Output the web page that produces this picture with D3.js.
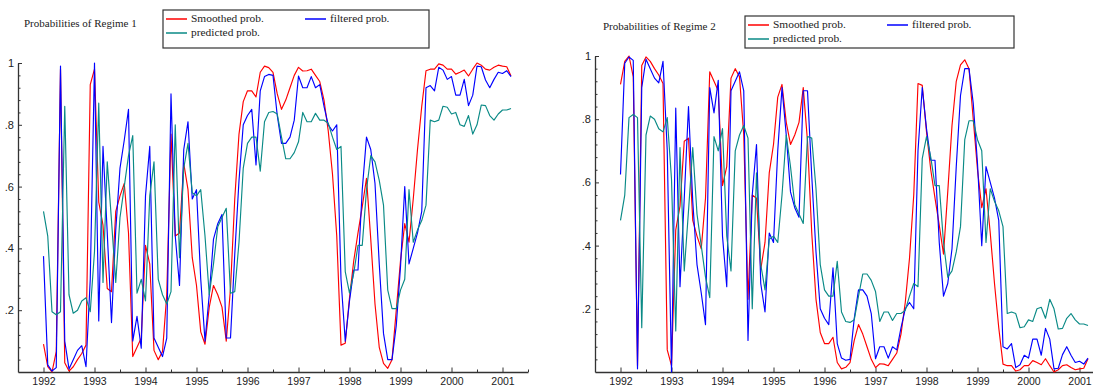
<!DOCTYPE html>
<html>
<head>
<meta charset="utf-8">
<script src="https://cdn.jsdelivr.net/npm/d3@7"></script>
<style>
  body { margin: 0; background: #fff; }
  svg { display: block; font-family: "Liberation Serif", "Times New Roman", serif; }
  .tick text { font-size: 11px; fill: #222; }
  .xaxis .tick text { font-size: 10.5px; }
  .title { font-size: 11px; fill: #222; }
  .legend text { font-size: 11.4px; fill: #222; }
</style>
</head>
<body>
<svg id="chart"></svg>
<script>
// monthly observations 1992:1 .. 2001:3
const startYear = 1992;
const nMonths = 111;

const yearTicks = [1992, 1993, 1994, 1995, 1996, 1997, 1998, 1999, 2000, 2001];
const halfYearTicks = [1991.5, 1992.5, 1993.5, 1994.5, 1995.5, 1996.5, 1997.5, 1998.5, 1999.5, 2000.5, 2001.5];
const yMajorTicks = [0.2, 0.4, 0.6, 0.8, 1];
const yMinorTicks = [0.04, 0.08, 0.12, 0.16, 0.24, 0.28, 0.32, 0.36, 0.44, 0.48, 0.52, 0.56,
                     0.64, 0.68, 0.72, 0.76, 0.84, 0.88, 0.92, 0.96];

const seriesNames = ["Smoothed prob.", "filtered prob.", "predicted prob."];
const seriesColors = ["#ff0000", "#0000ff", "#0a8a86"];

// Regime 1
const r1Smoothed = [0.09,0.017,0.0,0.066,0.98,0.03,0.003,0.017,0.04,0.06,
  0.087,0.93,0.98,0.55,0.475,0.27,0.26,0.52,0.57,0.61,
  0.45,0.05,0.08,0.11,0.41,0.35,0.07,0.04,0.066,0.25,
  0.77,0.44,0.45,0.675,0.59,0.37,0.28,0.13,0.09,0.21,
  0.28,0.25,0.21,0.10,0.27,0.56,0.77,0.875,0.91,0.91,
  0.89,0.97,0.99,0.985,0.97,0.90,0.85,0.88,0.92,0.96,
  0.986,0.974,0.975,0.98,0.96,0.94,0.88,0.78,0.64,0.44,
  0.087,0.093,0.24,0.36,0.45,0.535,0.627,0.43,0.22,0.08,
  0.028,0.012,0.04,0.2,0.36,0.48,0.42,0.56,0.72,0.86,
  0.975,0.98,0.98,0.997,0.993,0.98,0.98,0.964,0.97,0.977,
  0.958,0.98,1.0,0.993,0.98,0.977,0.986,0.993,0.99,0.988,
  0.958];
const r1Filtered = [0.375,0.023,0.003,0.014,0.99,0.10,0.01,0.04,0.07,0.085,
  0.017,0.3,1.0,0.165,0.73,0.45,0.16,0.46,0.66,0.75,
  0.85,0.10,0.18,0.077,0.57,0.73,0.11,0.08,0.05,0.11,
  0.90,0.44,0.28,0.72,0.81,0.56,0.59,0.3,0.1,0.25,
  0.43,0.48,0.51,0.11,0.11,0.38,0.62,0.8,0.83,0.85,
  0.67,0.91,0.956,0.963,0.96,0.83,0.74,0.74,0.76,0.815,
  0.958,0.92,0.92,0.956,0.92,0.93,0.86,0.80,0.78,0.80,
  0.3,0.10,0.23,0.33,0.33,0.59,0.76,0.72,0.61,0.35,
  0.125,0.04,0.04,0.15,0.34,0.6,0.35,0.40,0.45,0.52,
  0.92,0.927,0.91,0.986,0.977,0.947,0.956,0.896,0.896,0.947,
  0.862,0.896,0.99,0.988,0.945,0.92,0.947,0.97,0.966,0.975,
  0.956];
const r1Predicted = [0.52,0.44,0.195,0.185,0.195,0.86,0.25,0.19,0.20,0.23,
  0.24,0.195,0.39,0.87,0.29,0.68,0.49,0.29,0.50,0.6,
  0.70,0.765,0.255,0.30,0.23,0.57,0.68,0.3,0.25,0.22,
  0.26,0.80,0.37,0.66,0.74,0.58,0.57,0.59,0.44,0.25,
  0.35,0.47,0.50,0.53,0.255,0.26,0.42,0.66,0.74,0.76,
  0.76,0.65,0.81,0.84,0.843,0.835,0.76,0.69,0.69,0.71,
  0.745,0.84,0.81,0.81,0.837,0.815,0.815,0.805,0.76,0.72,
  0.73,0.325,0.255,0.32,0.41,0.41,0.59,0.70,0.68,0.62,
  0.54,0.265,0.205,0.205,0.265,0.3,0.59,0.42,0.46,0.49,
  0.54,0.815,0.81,0.815,0.86,0.857,0.835,0.84,0.80,0.795,
  0.83,0.77,0.80,0.864,0.862,0.83,0.815,0.835,0.848,0.848,
  0.853];

// Regime 2
const r2Smoothed = [0.91,0.983,1.0,0.934,0.02,0.97,0.997,0.983,0.96,0.94,
  0.913,0.07,0.02,0.45,0.525,0.73,0.74,0.48,0.43,0.39,
  0.55,0.95,0.92,0.89,0.59,0.65,0.93,0.96,0.934,0.75,
  0.23,0.56,0.55,0.325,0.41,0.63,0.72,0.87,0.91,0.79,
  0.72,0.75,0.79,0.90,0.73,0.44,0.23,0.125,0.09,0.09,
  0.11,0.03,0.01,0.015,0.03,0.10,0.15,0.12,0.08,0.04,
  0.014,0.026,0.025,0.02,0.04,0.06,0.12,0.22,0.36,0.56,
  0.913,0.907,0.76,0.64,0.55,0.465,0.373,0.57,0.78,0.92,
  0.972,0.988,0.96,0.8,0.64,0.52,0.58,0.44,0.28,0.14,
  0.025,0.02,0.02,0.003,0.007,0.02,0.02,0.036,0.03,0.023,
  0.042,0.02,0.0,0.007,0.02,0.023,0.014,0.007,0.01,0.012,
  0.042];
const r2Filtered = [0.625,0.977,0.997,0.986,0.01,0.90,0.99,0.96,0.93,0.915,
  0.983,0.7,0.0,0.835,0.27,0.55,0.84,0.54,0.34,0.25,
  0.15,0.90,0.82,0.923,0.43,0.27,0.89,0.92,0.95,0.89,
  0.10,0.56,0.72,0.28,0.19,0.44,0.41,0.7,0.9,0.75,
  0.57,0.52,0.49,0.89,0.89,0.62,0.38,0.2,0.17,0.15,
  0.33,0.09,0.044,0.037,0.04,0.17,0.26,0.26,0.24,0.185,
  0.042,0.08,0.08,0.044,0.08,0.07,0.14,0.20,0.22,0.20,
  0.7,0.9,0.77,0.67,0.67,0.41,0.24,0.28,0.39,0.65,
  0.875,0.96,0.96,0.85,0.66,0.4,0.65,0.60,0.55,0.48,
  0.08,0.073,0.09,0.014,0.023,0.053,0.044,0.104,0.104,0.053,
  0.138,0.104,0.01,0.012,0.055,0.08,0.053,0.03,0.034,0.025,
  0.044];
const r2Predicted = [0.48,0.56,0.805,0.815,0.805,0.14,0.75,0.81,0.80,0.77,
  0.76,0.805,0.61,0.13,0.71,0.32,0.51,0.71,0.50,0.4,
  0.30,0.235,0.745,0.70,0.77,0.43,0.32,0.7,0.75,0.78,
  0.74,0.20,0.63,0.34,0.26,0.42,0.43,0.41,0.56,0.75,
  0.65,0.53,0.50,0.47,0.745,0.74,0.58,0.34,0.26,0.24,
  0.24,0.35,0.19,0.16,0.157,0.165,0.24,0.31,0.31,0.29,
  0.255,0.16,0.19,0.19,0.163,0.185,0.185,0.195,0.24,0.28,
  0.27,0.675,0.745,0.68,0.59,0.59,0.41,0.30,0.32,0.38,
  0.46,0.735,0.795,0.795,0.735,0.7,0.41,0.58,0.54,0.51,
  0.46,0.185,0.19,0.185,0.14,0.143,0.165,0.16,0.20,0.205,
  0.17,0.23,0.20,0.136,0.138,0.17,0.185,0.165,0.152,0.152,
  0.147];

const width = 1093, height = 387;
const svg = d3.select("#chart").attr("width", width).attr("height", height);

const months = d3.range(nMonths).map(i => startYear + i / 12);

const panels = [
  { title: "Probabilities of Regime 1", series: [r1Smoothed, r1Filtered, r1Predicted],
    x0: 18, x1: 528, yTop: 63, yBottom: 372, titleX: 24, titleY: 23,
    legend: { x: 163, y: 10, w: 266, h: 38 } },
  { title: "Probabilities of Regime 2", series: [r2Smoothed, r2Filtered, r2Predicted],
    x0: 595, x1: 1105, yTop: 56, yBottom: 372, titleX: 603, titleY: 26,
    legend: { x: 745, y: 16, w: 269, h: 32 } }
];

panels.forEach(p => {
  const g = svg.append("g");
  const x = d3.scaleLinear().domain([1991.5, 2001.5]).range([p.x0, p.x1]);
  const y = d3.scaleLinear().domain([0, 1]).range([p.yBottom, p.yTop]);

  // minor ticks first
  g.append("g")
    .attr("transform", `translate(0,${p.yBottom})`)
    .call(d3.axisBottom(x).tickValues(halfYearTicks).tickSize(-2.5).tickSizeOuter(0).tickFormat(""))
    .call(a => a.select(".domain").remove());
  g.append("g")
    .attr("transform", `translate(${p.x0},0)`)
    .call(d3.axisLeft(y).tickValues(yMinorTicks).tickSize(-2.5).tickSizeOuter(0).tickFormat(""))
    .call(a => a.select(".domain").remove());

  // major axes
  g.append("g").attr("class", "xaxis")
    .attr("transform", `translate(0,${p.yBottom})`)
    .call(d3.axisBottom(x).tickValues(yearTicks).tickSize(-4.5).tickSizeOuter(0)
      .tickPadding(6).tickFormat(d3.format("d")));
  g.append("g")
    .attr("transform", `translate(${p.x0},0)`)
    .call(d3.axisLeft(y).tickValues(yMajorTicks).tickSize(-4).tickSizeOuter(0).tickPadding(4)
      .tickFormat(d => d === 1 ? "1" : d3.format(".1f")(d).replace(/^0/, "")));

  g.selectAll(".domain").attr("stroke", "#333").attr("stroke-width", 1.3);
  g.selectAll(".tick line").attr("stroke", "#333");
  g.selectAll(".tick text").attr("font-family", null).attr("font-size", null);

  // series lines
  const line = d3.line().x((d, i) => x(months[i])).y(d => y(d));
  p.series.forEach((s, k) => {
    g.append("path")
      .datum(s)
      .attr("fill", "none")
      .attr("stroke", seriesColors[k])
      .attr("stroke-width", 1.15)
      .attr("stroke-linejoin", "round")
      .attr("d", line);
  });

  // title
  g.append("text").attr("class", "title")
    .attr("x", p.titleX).attr("y", p.titleY).attr("dy", "0.35em")
    .text(p.title);

  // legend box
  const L = p.legend;
  const lg = g.append("g").attr("class", "legend").attr("transform", `translate(${L.x},${L.y})`);
  lg.append("rect").attr("width", L.w).attr("height", L.h)
    .attr("fill", "#fff").attr("stroke", "#333").attr("stroke-width", 1.2);
  const rowH = 14;
  const items = [
    { k: 0, col: 0, row: 0 }, { k: 1, col: 1, row: 0 }, { k: 2, col: 0, row: 1 }
  ];
  items.forEach(it => {
    const ix = 3 + it.col * 139;
    const iy = 9 + it.row * rowH;
    lg.append("line").attr("x1", ix).attr("x2", ix + 21).attr("y1", iy).attr("y2", iy)
      .attr("stroke", seriesColors[it.k]).attr("stroke-width", 1.5);
    lg.append("text").attr("x", ix + 25).attr("y", iy).attr("dy", "0.3em")
      .text(seriesNames[it.k]);
  });
});
</script>
</body>
</html>
